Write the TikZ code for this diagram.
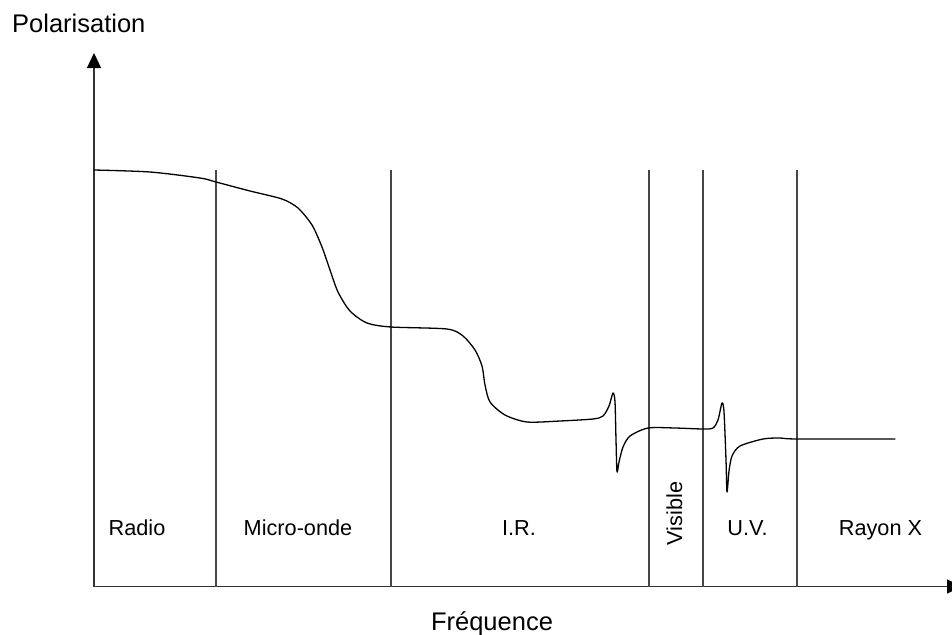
\documentclass[tikz,border=0pt]{standalone}
\usepackage{fontspec}
\setmainfont{Liberation Sans}
\usetikzlibrary{arrows.meta}
\begin{document}
\begin{tikzpicture}[x=1pt,y=-1pt,
  axisline/.style={draw=black!80,line width=1.3pt},
  axtip/.style={-{Triangle[length=15pt,width=14pt,color=black]}},
  bandline/.style={draw=black!72,line width=1.1pt},
  curveline/.style={draw=black,line width=1.3pt,line join=round,line cap=round},
  lbl/.style={font=\fontsize{21.7}{26}\selectfont,anchor=base,inner sep=0pt},
  axlbl/.style={font=\fontsize{25.5}{30}\selectfont,inner sep=0pt}]
\useasboundingbox (0,0) rectangle (952,634);
\clip (0,0) rectangle (952,634);
% axes
\coordinate (O) at (94,586.5);
\coordinate (Ytop) at (94,53);
\coordinate (Xend) at (962,586.5);
\draw[axisline,axtip] (O) -- (Ytop);
\draw[axisline,axtip] (O) -- (Xend);
% band separators
\foreach \n/\x in {a/216,b/391,c/649,d/703,e/797}{
  \coordinate (t\n) at (\x,169.5);
  \coordinate (b\n) at (\x,586.5);
  \draw[bandline] (t\n) -- (b\n);
}
% curve
\draw[curveline] plot[smooth,tension=0.45] coordinates {
 (94,170) (150,172) (200,178) (216,182) (250,191) (282,199) (298,208)
 (312,225) (322,247) (330,270) (338,292) (350,311) (367,323) (391,327)
 (447,329) (463,336) (475,350) (482,366) (485,385) (490,402) (505,415)
 (527,422) (560,421) (593,419) (603,416) (609,406) (613,393) (615,402)
 (616,440) (617,472) (619,462) (623,447) (630,436) (648,428) (675,428)
 (703,429) (713,428) (718,420) (722,403) (724,412) (726,460) (727,492)
 (729,471) (732,456) (740,446) (763,439) (780,438) (797,439) (895,439)};
% labels
\node[axlbl,anchor=base west] (pol) at (12,33) {Polarisation};
\node[axlbl,anchor=base] (freq) at (492,630) {Fréquence};
\node[lbl] (radio) at (137,535) {Radio};
\node[lbl] (micro) at (298,535) {Micro-onde};
\node[lbl] (ir) at (519,535) {I.R.};
\node[lbl,rotate=90] (vis) at (682,513.5) {Visible};
\node[lbl] (uv) at (747.5,535) {U.V.};
\node[lbl] (rx) at (880.5,535) {Rayon X};
\end{tikzpicture}
\end{document}
